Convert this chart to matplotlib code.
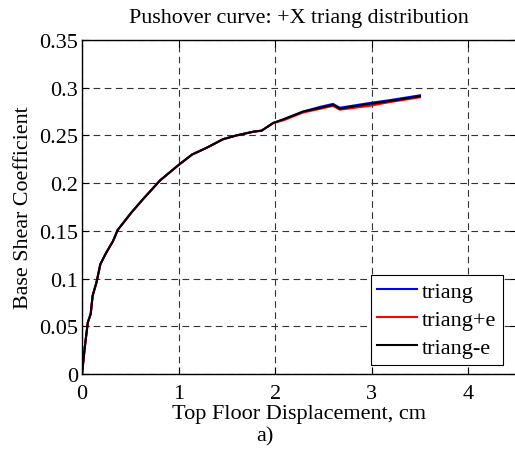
import matplotlib
matplotlib.use('Agg')
import matplotlib.pyplot as plt

# displacement (cm)
disp = [0, 0.03, 0.06, 0.09, 0.11, 0.15, 0.19, 0.25, 0.32, 0.37, 0.51, 0.63,
        0.81, 1.0, 1.14, 1.29, 1.46, 1.6, 1.78, 1.86, 1.98, 2.09, 2.29, 2.47,
        2.6, 2.67, 2.98, 3.19, 3.5]
triang = [0, 0.029, 0.054, 0.063, 0.082, 0.096, 0.115, 0.127, 0.139, 0.151,
          0.169, 0.183, 0.203, 0.219, 0.230, 0.237, 0.246, 0.250, 0.254,
          0.255, 0.263, 0.267, 0.275, 0.280, 0.283, 0.279, 0.284, 0.287, 0.292]
triang_pe = [0, 0.029, 0.054, 0.063, 0.082, 0.096, 0.115, 0.127, 0.139, 0.151,
             0.169, 0.183, 0.203, 0.219, 0.230, 0.237, 0.246, 0.250, 0.254,
             0.255, 0.263, 0.266, 0.274, 0.278, 0.281, 0.277, 0.281, 0.285, 0.290]
triang_me = [0, 0.029, 0.054, 0.063, 0.082, 0.096, 0.115, 0.127, 0.139, 0.151,
             0.169, 0.183, 0.203, 0.219, 0.230, 0.237, 0.246, 0.250, 0.254,
             0.255, 0.263, 0.267, 0.275, 0.279, 0.282, 0.278, 0.283, 0.286, 0.291]

xticks = [0, 1, 2, 3, 4]
yticks = [0, 0.05, 0.1, 0.15, 0.2, 0.25, 0.3, 0.35]
ytick_labels = ['0', '0.05', '0.1', '0.15', '0.2', '0.25', '0.3', '0.35']

plt.rcParams['font.family'] = ['Liberation Serif', 'DejaVu Serif']

W, H = 515, 460
fig = plt.figure(figsize=(W / 100, H / 100), dpi=100)
# axes: left 82px, top 41px, bottom 375px, right just past the image edge
ax = fig.add_axes([82 / W, (H - 375) / H, (516.5 - 82) / W, (375 - 41) / H])

ax.plot(disp, triang, color='#0000ff', lw=1.5, label='triang')
ax.plot(disp, triang_pe, color='#ff0000', lw=1.5, label='triang+e')
ax.plot(disp, triang_me, color='black', lw=1.5, label='triang-e')

ax.set_xlim(0, 4.5)
ax.set_ylim(0, 0.35)
ax.set_xticks(xticks)
ax.set_xticklabels([str(t) for t in xticks])
ax.set_yticks(yticks)
ax.set_yticklabels(ytick_labels)
ax.tick_params(direction='in', length=5, width=0.8, labelsize=16,
               top=True, right=True)
ax.tick_params(axis='x', pad=7)
ax.tick_params(axis='y', pad=3)
ax.grid(True, color='#333333', linestyle=(0, (6, 4)), linewidth=0.8)
for s in ax.spines.values():
    s.set_linewidth(1.0)

ax.set_title('Pushover curve: +X triang distribution', fontsize=15.8, pad=13)
ax.set_xlabel('Top Floor Displacement, cm', fontsize=16, labelpad=1)
ax.set_ylabel('Base Shear Coefficient', fontsize=15.8, labelpad=4)

leg = ax.legend(loc='lower right', bbox_to_anchor=(502.7 / W, (H - 365.7) / H),
                bbox_transform=fig.transFigure, fontsize=16, frameon=True,
                fancybox=False, edgecolor='black', framealpha=1,
                handlelength=1.8, handletextpad=0.2, labelspacing=0.33,
                borderpad=0.3, borderaxespad=0)
leg.get_frame().set_linewidth(0.8)

fig.text(265 / W, 1 - 437 / H, 'a)', fontsize=16, ha='center', va='center')

fig.savefig('out.png', dpi=100)
